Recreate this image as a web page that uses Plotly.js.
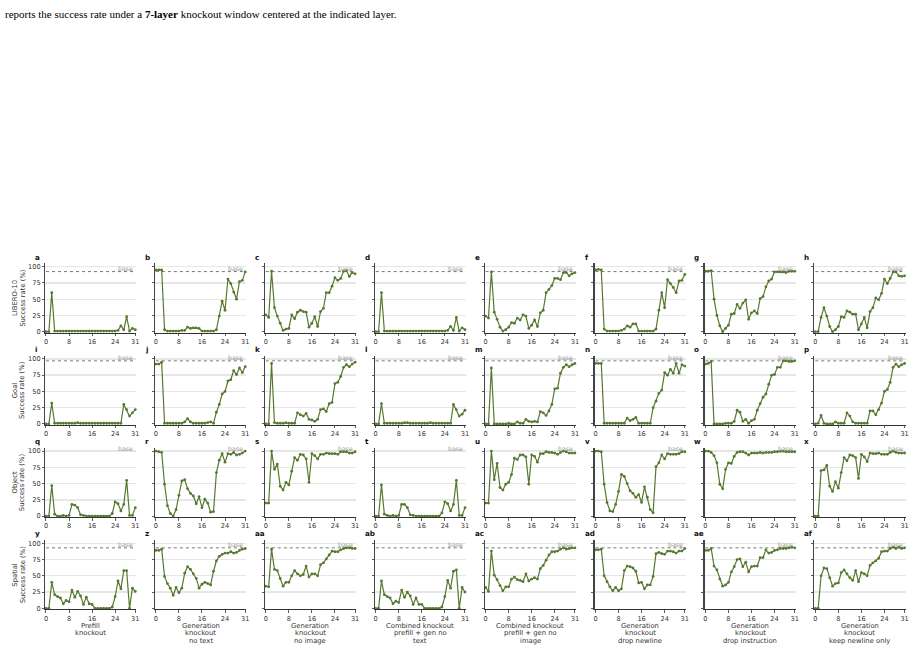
<!DOCTYPE html>
<html><head><meta charset="utf-8">
<script src="https://cdn.plot.ly/plotly-3.0.1.min.js"></script>
<style>html,body{margin:0;padding:0;background:#fff;} #chart{width:915px;height:652px;}</style>
</head><body><div id="chart"></div>
<script>
const layers = [0,1,2,3,4,5,6,7,8,9,10,11,12,13,14,15,16,17,18,19,20,21,22,23,24,25,26,27,28,29,30,31];
const suites = ["LIBERO-10","Goal","Object","Spatial"];
const baseRates = [92.5, 97, 99.5, 93];
const conditionLabels = [
  ["Prefill","knockout"],
  ["Generation","knockout","no text"],
  ["Generation","knockout","no image"],
  ["Combined knockout","prefill + gen no","text"],
  ["Combined knockout","prefill + gen no","image"],
  ["Generation","knockout","drop newline"],
  ["Generation","knockout","drop instruction"],
  ["Generation","knockout","keep newline only"]
];
const panelLetters = ["a","b","c","d","e","f","g","h","i","j","k","l","m","n","o","p",
                      "q","r","s","t","u","v","w","x","y","z","aa","ab","ac","ad","ae","af"];
const xTicks = [0,8,16,24,31];
const yTicks = [0,25,50,75,100];
const caption = "reports the success rate under a <b>7-layer</b> knockout window centered at the indicated layer.";

// LIBERO-10
const libero10_prefill = [0,0,60,1,1,1,1,1,1,1,1,1,1,1,1,1,1,1,1,1,1,1,1,1,1,2,9,3,23,1,5,3];
const libero10_genNoText = [95,95,95,3,1,1,1,1,1,2,2,7,5,6,6,5,1,1,1,1,1,3,24,47,33,81,74,61,50,77,79,92];
const libero10_genNoImage = [26,22,93,37,24,13,2,4,5,26,20,30,33,31,30,7,13,23,8,31,36,60,60,70,83,79,82,93,94,85,91,89];
const libero10_combNoText = [0,0,60,1,1,1,1,1,1,1,1,1,1,1,1,1,1,1,1,1,1,1,1,1,1,2,8,2,22,1,6,3];
const libero10_combNoImage = [24,21,92,30,19,7,1,3,7,14,13,21,18,26,24,5,10,18,8,29,33,60,65,71,82,82,80,91,91,86,89,91];
const libero10_dropNewline = [95,96,95,4,1,1,1,1,1,2,4,9,7,12,12,1,1,1,1,1,1,4,33,60,37,80,74,68,60,78,79,88];
const libero10_dropInstruction = [93,93,94,50,25,9,0,5,10,27,28,42,36,44,49,19,29,32,28,51,54,69,78,81,92,92,92,92,91,93,93,93];
const libero10_keepNewline = [0,0,22,37,24,8,0,3,8,23,22,32,30,27,27,3,12,22,6,31,37,52,49,59,81,74,82,92,92,86,85,86];
// Goal
const goal_prefill = [0,0,32,1,1,1,1,1,1,1,1,2,1,1,1,1,1,1,1,1,1,1,1,1,1,1,1,30,22,12,17,22];
const goal_genNoText = [92,92,95,1,1,1,1,1,1,1,3,8,3,1,1,1,1,1,2,3,1,18,30,46,50,66,68,82,76,86,79,88];
const goal_genNoImage = [0,0,93,2,1,1,1,2,1,1,1,17,14,12,16,7,6,4,7,22,23,19,31,33,62,64,73,87,91,88,92,95];
const goal_combNoText = [0,0,31,1,1,1,1,1,1,1,2,2,1,1,1,1,1,1,1,2,1,1,1,1,1,1,1,30,22,12,15,21];
const goal_combNoImage = [0,0,86,0,0,0,0,0,1,0,0,3,1,1,7,4,3,4,3,19,17,13,20,30,54,55,78,87,91,88,91,93];
const goal_dropNewline = [93,93,93,1,1,1,1,1,1,1,1,9,5,7,10,1,1,1,1,1,25,35,47,52,79,75,84,78,93,78,91,89];
const goal_dropInstruction = [92,93,96,0,0,0,0,1,1,1,4,21,18,4,7,1,5,7,21,31,41,46,61,75,76,87,87,97,97,96,96,97];
const goal_keepNewline = [0,1,13,1,0,0,0,3,1,1,1,17,12,3,1,1,1,1,1,20,20,14,22,32,50,53,64,87,92,88,91,93];
// Object
const object_prefill = [0,0,47,3,0,0,1,0,1,18,17,13,2,1,0,0,0,0,0,0,0,0,0,4,22,19,8,18,55,1,1,13];
const object_genNoText = [100,99,98,49,16,4,0,10,32,54,56,42,35,31,19,30,13,26,20,6,7,67,86,96,83,96,95,98,94,95,97,100];
const object_genNoImage = [20,20,100,72,80,46,40,52,48,69,90,86,95,94,88,52,96,93,88,95,95,97,96,96,96,95,99,99,99,97,97,99];
const object_combNoText = [0,0,48,3,1,0,1,0,1,18,18,13,2,1,0,0,0,0,0,0,0,0,0,5,22,19,8,18,55,1,1,13];
const object_combNoImage = [20,20,100,56,81,44,40,49,52,64,89,87,94,94,91,49,94,92,83,96,96,99,98,98,97,95,98,100,99,97,97,97];
const object_dropNewline = [100,100,99,49,21,8,7,18,38,64,61,50,39,35,29,33,21,45,29,10,5,76,82,94,88,96,95,95,95,96,99,99];
const object_dropInstruction = [100,100,98,93,82,49,42,72,82,81,92,98,99,99,97,94,97,97,97,98,97,98,98,98,99,99,100,100,99,99,99,99];
const object_keepNewline = [0,0,70,71,78,46,38,53,43,67,90,85,94,93,90,58,95,91,84,97,96,96,97,95,95,95,98,100,98,97,97,97];
// Spatial
const spatial_prefill = [0,0,40,21,18,16,7,12,10,28,17,26,19,6,17,7,6,0,0,0,0,0,0,2,18,42,30,58,58,0,31,26];
const spatial_genNoText = [89,89,91,49,38,31,20,32,24,31,54,64,60,53,46,31,37,40,38,36,57,73,80,83,85,85,87,85,86,89,91,92];
const spatial_genNoImage = [34,33,91,60,58,46,34,40,40,50,58,53,50,52,65,48,53,53,50,67,70,76,82,88,87,87,90,92,93,93,92,92];
const spatial_combNoText = [0,0,42,21,18,16,7,11,9,28,17,25,19,6,16,6,6,0,0,0,0,0,0,2,18,43,31,57,59,0,32,25];
const spatial_combNoImage = [32,26,88,51,44,35,27,33,33,45,48,44,43,41,53,42,45,47,45,61,66,74,82,87,87,88,91,93,91,92,93,93];
const spatial_dropNewline = [90,90,91,50,41,33,27,32,27,30,58,65,64,62,57,39,40,30,36,36,49,84,86,84,83,88,88,87,85,88,88,92];
const spatial_dropInstruction = [89,89,92,65,59,45,34,36,40,56,64,75,76,64,71,56,64,65,65,78,78,90,85,86,89,90,92,92,92,93,94,93];
const spatial_keepNewline = [0,0,50,62,61,47,34,38,39,55,59,53,47,43,58,41,55,53,50,66,70,73,77,87,88,88,92,94,92,94,92,93];

const rows = [
  [libero10_prefill, libero10_genNoText, libero10_genNoImage, libero10_combNoText, libero10_combNoImage, libero10_dropNewline, libero10_dropInstruction, libero10_keepNewline],
  [goal_prefill, goal_genNoText, goal_genNoImage, goal_combNoText, goal_combNoImage, goal_dropNewline, goal_dropInstruction, goal_keepNewline],
  [object_prefill, object_genNoText, object_genNoImage, object_combNoText, object_combNoImage, object_dropNewline, object_dropInstruction, object_keepNewline],
  [spatial_prefill, spatial_genNoText, spatial_genNoImage, spatial_combNoText, spatial_combNoImage, spatial_dropNewline, spatial_dropInstruction, spatial_keepNewline]
];

const W = 915, H = 652;
const px = x => x / W;
const py = y => 1 - y / H;
const GREEN = '#56792f';
const FONT = 'DejaVu Sans, sans-serif';
const TICKC = '#333';

// geometry (pixels)
const colStart = 46, colPitch = 109.9, span = 89.3; // pixel of layer 0, pitch, width 0..31
const rowZero = 331.7, rowPitch = 92.2, yScale = 0.65; // px per %
const xMin = -0.3, xMax = 31.4, yMin = -1.5, yMax = 105;
const unit = span / 31;

const data = [];
const layout = {
  width: W, height: H, autosize: false,
  margin: {l:0, r:0, t:0, b:0, pad:0},
  paper_bgcolor: '#fff', plot_bgcolor: '#fff',
  showlegend: false,
  shapes: [], annotations: [],
  font: {family: FONT, size: 6.6, color: TICKC}
};

for (let r = 0; r < 4; r++) {
  const Y0 = rowZero + r * rowPitch;
  const yBot = Y0 - yMin * yScale, yTop = Y0 - yMax * yScale;
  for (let c = 0; c < 8; c++) {
    const idx = r * 8 + c + 1;
    const xn = 'x' + (idx === 1 ? '' : idx), yn = 'y' + (idx === 1 ? '' : idx);
    const X0 = colStart + c * colPitch;
    const xl = X0 + xMin * unit, xr = X0 + xMax * unit;
    layout['xaxis' + (idx === 1 ? '' : idx)] = {
      domain: [px(xl), px(xr)], range: [xMin, xMax], anchor: yn,
      tickvals: xTicks, ticktext: xTicks.map(String), ticks: 'outside', ticklen: 2.5, tickwidth: 0.8, tickcolor: '#333',
      showline: true, linecolor: '#333', linewidth: 1, showgrid: false, zeroline: false,
      tickfont: {family: FONT, size: 6.6, color: TICKC}, fixedrange: true
    };
    layout['yaxis' + (idx === 1 ? '' : idx)] = {
      domain: [py(yBot), py(yTop)], range: [yMin, yMax], anchor: xn,
      tickvals: yTicks, ticks: 'outside', ticklen: 2, tickwidth: 0.8, tickcolor: '#333',
      showticklabels: c === 0,
      showline: true, linecolor: '#444', linewidth: 1.2,
      showgrid: true, gridcolor: '#e6e6e6', gridwidth: 1.3, zeroline: false,
      tickfont: {family: FONT, size: 6.6, color: TICKC}, fixedrange: true
    };
    data.push({
      x: layers, y: rows[r][c], xaxis: xn, yaxis: yn, type: 'scatter',
      mode: 'lines+markers', line: {color: GREEN, width: 1.2},
      marker: {size: 2.8, color: GREEN}, hoverinfo: 'skip', showlegend: false, cliponaxis: false
    });
    layout.shapes.push({
      type: 'line', xref: xn, yref: yn, x0: layers[0], x1: layers[layers.length - 1],
      y0: baseRates[r], y1: baseRates[r], line: {color: '#777', width: 1, dash: 'dot'}, layer: 'below'
    });
    layout.annotations.push({
      xref: xn, yref: yn, x: layers[layers.length - 1], y: baseRates[r], text: 'base',
      xanchor: 'right', yanchor: 'middle', yshift: 3, showarrow: false,
      font: {family: FONT, size: 6.2, color: '#999'}
    });
    layout.annotations.push({
      xref: 'paper', yref: 'paper', x: px(X0 - 13), y: py(Y0 - 100 * yScale - 9.7),
      text: '<b>' + panelLetters[idx - 1] + '</b>', xanchor: 'left', yanchor: 'middle', showarrow: false,
      font: {family: FONT, size: 7.2, color: '#111'}
    });
    if (r === 3) {
      conditionLabels[c].forEach((line, k) => {
        layout.annotations.push({
          xref: 'paper', yref: 'paper', x: px(X0 + span / 2), y: py(625.5 + k * 7.5),
          text: line, xanchor: 'center', yanchor: 'middle', showarrow: false,
          font: {family: FONT, size: 6.8, color: '#333'}
        });
      });
    }
  }
  const yMid = (yBot + yTop) / 2;
  layout.annotations.push({
    xref: 'paper', yref: 'paper', x: px(15), y: py(yMid), text: suites[r], textangle: -90,
    xanchor: 'center', yanchor: 'middle', showarrow: false, font: {family: FONT, size: 6.8, color: '#333'}
  });
  layout.annotations.push({
    xref: 'paper', yref: 'paper', x: px(22.7), y: py(yMid), text: 'Success rate (%)', textangle: -90,
    xanchor: 'center', yanchor: 'middle', showarrow: false, font: {family: FONT, size: 6.8, color: '#333'}
  });
}

layout.annotations.push({
  xref: 'paper', yref: 'paper', x: px(3), y: py(13.5), text: caption,
  xanchor: 'left', yanchor: 'middle', showarrow: false,
  font: {family: 'Liberation Serif, Times New Roman, serif', size: 11, color: '#000'}
});

Plotly.newPlot('chart', data, layout, {displayModeBar: false, staticPlot: true});
</script>
</body></html>
